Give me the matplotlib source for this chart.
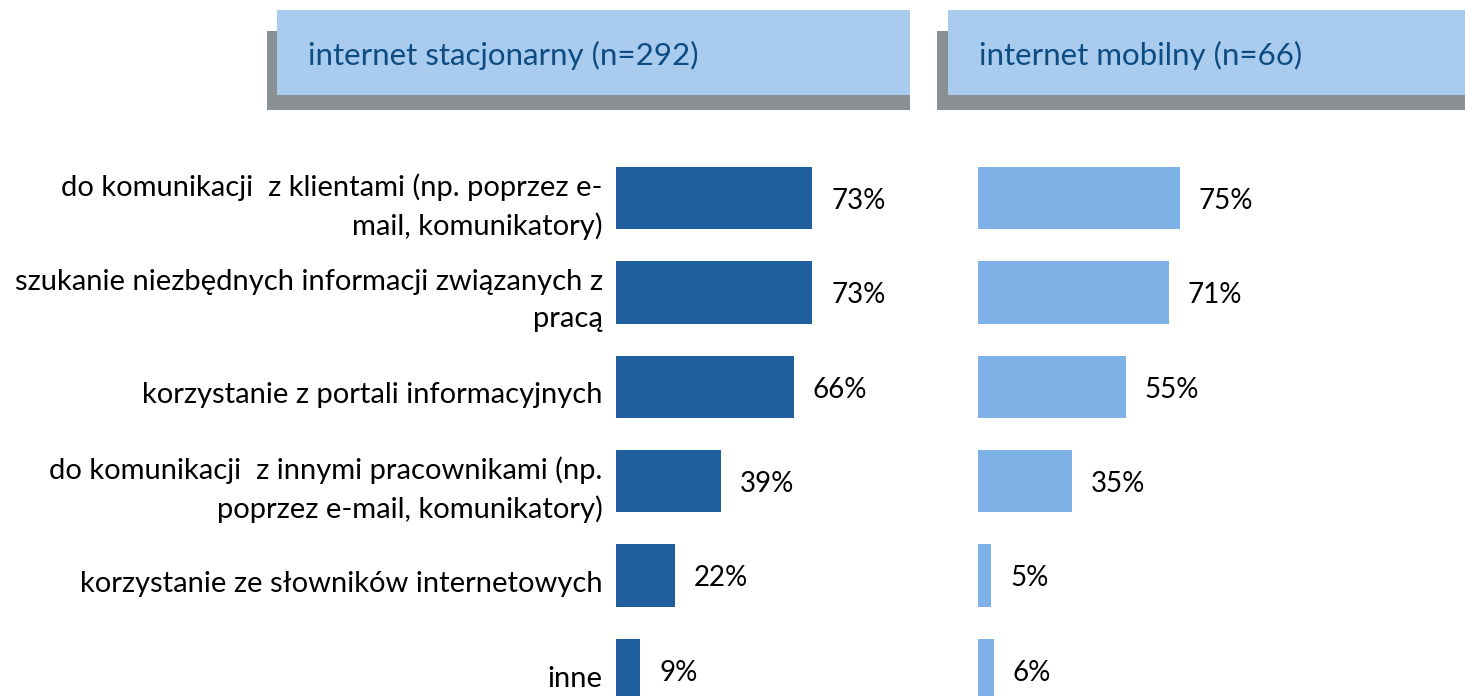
import matplotlib.pyplot as plt
from matplotlib.patches import Rectangle

plt.rcParams['font.family'] = ['Lato', 'DejaVu Sans']

categories = [
    "do komunikacji  z klientami (np. poprzez e-\nmail, komunikatory)",
    "szukanie niezbędnych informacji związanych z\npracą",
    "korzystanie z portali informacyjnych",
    "do komunikacji  z innymi pracownikami (np.\npoprzez e-mail, komunikatory)",
    "korzystanie ze słowników internetowych",
    "inne",
]
stacjonarny = [73, 73, 66, 39, 22, 9]
mobilny = [75, 71, 55, 35, 5, 6]
titles = ["internet stacjonarny (n=292)", "internet mobilny (n=66)"]

dark_blue = "#1F5F9E"
light_blue = "#7EB2E6"
header_blue = "#A9CCEE"
header_gray = "#8A8F92"
title_color = "#0D4C82"

W, H = 1465, 696
fig = plt.figure(figsize=(W / 100, H / 100), dpi=100)

px_per_pct = 2.69
row_px = 94.4
ylim = (5.275, -0.6)
ax_top = 198 + ylim[1] * row_px  # pixel of top edge


def add_panel(x0, x1, values, color, with_labels):
    ax = fig.add_axes([x0 / W, 0, (x1 - x0) / W, (H - ax_top) / H])
    pos = range(len(values))
    ax.barh(pos, values, height=0.66, color=color)
    ax.set_xlim(0, (x1 - x0) / px_per_pct)
    ax.set_ylim(*ylim)
    for i, v in enumerate(values):
        ax.text(v + 7, i + 0.03, f"{v}%", va="center", ha="left", fontsize=20)
        if with_labels:
            ax.text(-5, i + 0.09, categories[i], va="center", ha="right",
                    fontsize=21, linespacing=1.53, clip_on=False)
    ax.axis("off")
    return ax


add_panel(616, 910, stacjonarny, dark_blue, True)
add_panel(978, 1465, mobilny, light_blue, False)


def add_header(gx, bx, x1, text):
    # gray shadow block, then light blue box on top
    fig.add_artist(Rectangle((gx / W, 1 - 110 / H), (x1 - gx) / W, 79 / H,
                             transform=fig.transFigure, color=header_gray, lw=0))
    fig.add_artist(Rectangle((bx / W, 1 - 95 / H), (x1 - bx) / W, 85 / H,
                             transform=fig.transFigure, color=header_blue, lw=0))
    fig.text((bx + 31) / W, 1 - 55 / H, text, fontsize=22.5, color=title_color,
             va="center", ha="left")


add_header(267, 277, 910, titles[0])
add_header(937, 948, 1465, titles[1])

fig.savefig("out.png", dpi=100)
